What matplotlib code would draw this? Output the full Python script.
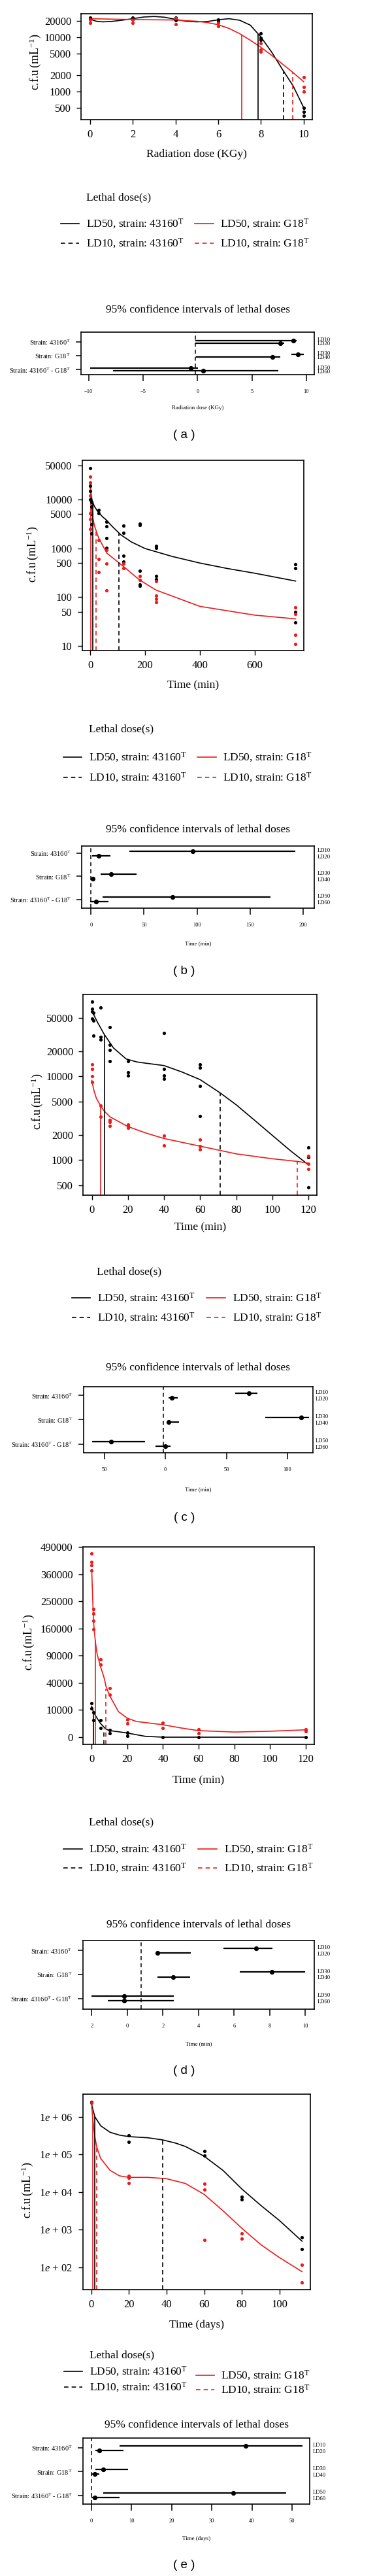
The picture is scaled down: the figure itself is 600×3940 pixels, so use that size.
import numpy as np
import matplotlib
matplotlib.use('Agg')
import matplotlib.pyplot as plt
from matplotlib.lines import Line2D
from matplotlib.transforms import blended_transform_factory
from matplotlib.ticker import NullLocator

plt.rcParams['font.family'] = ['Liberation Serif', 'DejaVu Serif']
plt.rcParams['mathtext.fontset'] = 'custom'
plt.rcParams['mathtext.rm'] = 'Liberation Serif'
plt.rcParams['mathtext.it'] = 'Liberation Serif:italic'
plt.rcParams['mathtext.bf'] = 'Liberation Serif:bold'

RED = '#ee1a1a'
W, H = 600, 3940

# ---------------- panel (a): radiation ----------------
a_blk_x = [0, 0, 2, 2, 4, 4, 6, 6, 8, 8, 8, 10, 10, 10]
a_blk_y = [23000, 21700, 23200, 21700, 23200, 20600, 21100, 19800, 11900, 9700, 9000, 495, 416, 353]
a_red_x = [0, 0, 2, 2, 4, 4, 6, 6, 8, 8, 8, 10, 10, 10]
a_red_y = [21000, 18700, 21000, 18700, 22600, 17600, 18400, 16300, 7900, 5960, 5480, 1810, 1213, 1000]
a_cblk_x = [0, 0.3, 0.6, 1, 1.5, 2, 2.5, 3, 3.5, 4, 4.5, 5, 5.5, 6, 6.5, 7, 7.5, 8, 8.5, 9, 9.5, 10]
a_cblk_y = [21700, 19800, 19300, 19650, 20700, 22100, 23700, 24300, 23500, 21500, 19800, 19300,
            19600, 21100, 22100, 20700, 16800, 10100, 5330, 2560, 1270, 500]
a_cred_x = [0, 1, 2, 3, 4, 5, 5.5, 6, 6.5, 7, 7.5, 8, 8.5, 9, 9.5, 10]
a_cred_y = [22100, 21700, 21300, 21100, 20900, 19800, 18700, 17100, 14640, 11700, 8840, 6520,
            4640, 3220, 2230, 1505]
a_ld_x = [7.85, 9.05, 7.11, 9.47]
a_ld_top = [11100, 2360, 10600, 2200]

# ---------------- panel (b) ----------------
b_blk_x = [0, 0, 0, 0, 5, 5, 5, 5, 5, 30, 30, 60, 60, 60, 60, 120, 120, 120, 120,
           180, 180, 180, 180, 180, 240, 240, 240, 240, 750, 750, 750, 750]
b_blk_y = [43900, 19300, 14700, 10000, 8800, 7170, 5000, 3100, 2000, 6140, 5250, 3500, 2850, 1630, 1030,
           2910, 2050, 716, 528, 3220, 3000, 350, 180, 171, 1135, 1025, 271, 232, 476, 387, 50, 30]
b_red_x = [0, 0, 0, 0, 0, 0, 30, 30, 30, 60, 60, 60, 120, 120, 180, 180, 240, 240, 240, 240,
           750, 750, 750, 750]
b_red_y = [29100, 22500, 12000, 5250, 4000, 2500, 1470, 596, 322, 925, 485, 139, 485, 388, 271, 228,
           214, 108, 92, 79, 61, 45, 17, 11]
b_cblk_x = [0, 3, 7, 15, 28, 45, 57, 80, 111, 150, 200, 300, 400, 500, 600, 750]
b_cblk_y = [20000, 12500, 9300, 7200, 5550, 4400, 3870, 2800, 1900, 1350, 990, 680, 500, 387, 310, 214]
b_cred_x = [0, 1, 3, 8, 15, 20, 30, 60, 120, 180, 240, 400, 600, 750]
b_cred_y = [20000, 14000, 9000, 4500, 2900, 2400, 1650, 800, 430, 225, 140, 65, 43, 36]
b_ld_x = [8, 105, 2.4, 20]
b_ld_top = [9000, 2000, 11000, 2400]

# ---------------- panel (c) ----------------
c_blk_x = [0, 0, 0, 0, 1, 1, 1, 5, 5, 5, 10, 10, 10, 10, 20, 20, 20, 40, 40, 40, 40,
           60, 60, 60, 60, 120, 120, 120]
c_blk_y = [78000, 64400, 60000, 49200, 57800, 46200, 31000, 66400, 29500, 27800, 39200, 23900, 20600, 15300,
           15300, 11300, 10300, 32900, 12400, 10300, 9440, 13950, 12760, 7750, 3340, 1410, 1090, 470]
c_red_x = [0, 0, 0, 0, 5, 5, 10, 10, 10, 20, 20, 20, 40, 40, 60, 60, 60, 120, 120, 120]
c_red_y = [13950, 12360, 10000, 8630, 4460, 3300, 3020, 2840, 2550, 2680, 2550, 2450, 1980, 1510,
           1760, 1470, 1340, 1120, 910, 783]
c_cblk_x = [0, 3, 6.7, 12, 19, 25, 30, 40, 50, 60, 71, 80, 90, 100, 110, 120]
c_cblk_y = [60700, 45000, 32300, 21900, 16200, 14900, 14400, 13500, 11300, 9170, 6390, 4590, 3020,
            1980, 1300, 880]
c_cred_x = [0, 1, 2.5, 5, 7, 10, 20, 30, 40, 60, 80, 100, 114, 120]
c_cred_y = [9000, 7000, 5500, 4400, 3840, 3300, 2520, 2110, 1815, 1470, 1190, 1040, 966, 920]
c_ld_x = [7.2, 71.2, 5.0, 114]
c_ld_top = [31000, 6390, 4400, 966]

# ---------------- panel (d) ----------------
d_blk_x = [0, 0, 1, 1, 5, 5, 10, 10, 20, 20, 40, 60, 120]
d_blk_y = [15900, 11200, 8400, 4000, 3800, 1150, 660, 190, 310, 30, 0, 0, 0]
d_red_x = [0, 0, 0, 0, 1, 1, 1, 1, 5, 5, 10, 10, 20, 20, 40, 40, 60, 60, 120, 120]
d_red_y = [457000, 417000, 400000, 377000, 222000, 207000, 184000, 158000, 82000, 72000,
           32600, 24300, 4300, 2500, 2900, 1150, 880, 190, 880, 470]
d_cblk_x = [0, 1, 3, 5, 8, 10, 15, 20, 30, 40, 60, 80, 100, 120]
d_cblk_y = [13000, 8460, 4900, 2500, 880, 580, 400, 230, 10, 0, 0, 0, 0, 0]
d_cred_x = [0, 1, 2, 3, 5, 7, 8, 10, 15, 20, 25, 30, 40, 50, 60, 80, 100, 120]
d_cred_y = [379500, 182300, 126000, 94200, 67100, 47500, 35300, 23700, 8840, 4900, 3360, 2900,
            2100, 1160, 580, 360, 480, 730]
d_ld_x = [0.86, 7.0, 1.96, 8.07]
d_ld_top = [8900, 1000, 126000, 31800]

# ---------------- panel (e) ----------------
e_blk_x = [0, 0, 20, 20, 60, 60, 80, 80, 112, 112]
e_blk_y = [2.55e6, 2.38e6, 3.2e5, 2.15e5, 1.26e5, 9.3e4, 7650, 6440, 620, 310]
e_red_x = [0, 20, 20, 20, 60, 60, 60, 80, 80, 112, 112]
e_red_y = [2.38e6, 27200, 23800, 17500, 17000, 11900, 530, 790, 580, 117, 39]
e_cblk_x = [0, 1, 2, 5, 10, 15, 20, 30, 38, 45, 50, 60, 70, 80, 90, 100, 112]
e_cblk_y = [2.38e6, 1.49e6, 1.0e6, 5.86e5, 3.93e5, 3.30e5, 3.01e5, 2.81e5, 2.46e5, 2.01e5, 1.65e5,
            9.06e4, 3.80e4, 1.22e4, 4490, 1760, 497]
e_cred_x = [0, 1, 2, 3, 5, 10, 15, 20, 30, 40, 50, 60, 70, 80, 90, 100, 112]
e_cred_y = [2.55e6, 7.16e5, 2.81e5, 1.54e5, 7.92e4, 3.80e4, 2.72e4, 2.48e4, 2.48e4, 2.29e4, 1.71e4,
            8750, 3210, 1100, 406, 182, 77]
e_ld_x = [1.97, 38, 0.93, 2.9]
e_ld_top = [1.0e6, 2.46e5, 1.0e6, 1.6e5]

# ---------------- confidence intervals (order: group1 a/b, group2 a/b, group3 a/b) ----------------
ci_groups = ['Strain: 43160$^{\\mathrm{T}}$', 'Strain: G18$^{\\mathrm{T}}$',
             'Strain: 43160$^{\\mathrm{T}}$ - G18$^{\\mathrm{T}}$']
ld_names = ['LD10', 'LD20', 'LD30', 'LD40', 'LD50', 'LD60']
a_ci_est = [8.82, 7.62, 9.22, 6.86, -0.62, 0.5]
a_ci_lo = [-0.2, -0.2, 8.62, -0.14, -9.88, -7.78]
a_ci_hi = [9.1, 7.96, 9.76, 7.6, 0.02, 7.42]
b_ci_est = [96.1, 7.2, 18.9, 1.8, 76.8, 4.9]
b_ci_lo = [35.9, 1.0, 9.2, 0.4, 11.1, -0.6]
b_ci_hi = [192.6, 18.5, 42.9, 3.1, 169.2, 16.2]
c_ci_est = [68.4, 5.1, 111.1, 2.7, -44.5, 0.1]
c_ci_lo = [56.9, 2.4, 81.7, 1.9, -60.2, -8.4]
c_ci_hi = [75.6, 10.3, 117.4, 11.2, -16.6, 4.2]
d_ci_est = [7.22, 1.68, 8.13, 2.59, -0.18, -0.18]
d_ci_lo = [5.39, 1.65, 6.32, 1.69, -2.0, -1.08]
d_ci_hi = [8.17, 3.55, 10.0, 3.52, 2.61, 2.61]
e_ci_est = [38.4, 1.9, 2.88, 0.87, 35.3, 0.87]
e_ci_lo = [7.06, 0.92, 0.92, 0.0, 2.99, 0.0]
e_ci_hi = [52.55, 8.03, 9.07, 1.9, 48.5, 7.06]
ci_zero = [-0.2, 0, -1.9, 0.77, 0]

legend_labels = ['LD50, strain: 43160$^{\\mathrm{T}}$', 'LD10, strain: 43160$^{\\mathrm{T}}$',
                 'LD50, strain: G18$^{\\mathrm{T}}$', 'LD10, strain: G18$^{\\mathrm{T}}$']

fig = plt.figure(figsize=(W / 100, H / 100), dpi=100)
DASH = (0, (4, 3))


def box(left, top, right, bottom):
    return [left / W, 1 - bottom / H, (right - left) / W, (bottom - top) / H]


def ftext(x, y, s, **kw):
    fig.text(x / W, 1 - y / H, s, **kw)


def sq_fwd(y):
    y = np.asarray(y, dtype=float)
    return np.sign(y) * np.sqrt(np.abs(y))


def sq_inv(s):
    s = np.asarray(s, dtype=float)
    return np.sign(s) * s ** 2


def main_panel(rect, scale, xlim, ylim, xticks, yticks, yticklabels,
               blk, red, cblk, cred, ld_x, ld_top, xlabel, label_y, ylab_x, ylab_y):
    ax = fig.add_axes(box(*rect))
    if scale == 'log':
        ax.set_yscale('log')
    elif scale == 'sqrt':
        ax.set_yscale('function', functions=(sq_fwd, sq_inv))
    ax.plot(cblk[0], cblk[1], color='black', lw=1.2, zorder=2)
    ax.plot(cred[0], cred[1], color=RED, lw=1.2, zorder=2)
    ax.scatter(blk[0], blk[1], s=14, color='black', linewidths=0, zorder=3)
    ax.scatter(red[0], red[1], s=14, color=RED, linewidths=0, zorder=3)
    colors = ['black', 'black', RED, RED]
    styles = ['-', DASH, '-', DASH]
    for x, top, c, ls in zip(ld_x, ld_top, colors, styles):
        ax.plot([x, x], [ylim[0], top], color=c, ls=ls, lw=1.2, zorder=2)
    ax.set_xlim(xlim)
    ax.set_ylim(ylim)
    ax.set_xticks(xticks)
    ax.set_xticklabels([str(t) for t in xticks])
    ax.set_yticks(yticks)
    ax.set_yticklabels(yticklabels)
    ax.yaxis.set_minor_locator(NullLocator())
    ax.xaxis.set_minor_locator(NullLocator())
    ax.tick_params(direction='out', length=5, width=1, labelsize=12, pad=6)
    for sp in ax.spines.values():
        sp.set_linewidth(1.2)
    left, top, right, bottom = rect
    ftext((left + right) / 2, label_y, xlabel, ha='center', va='center', fontsize=12.5)
    ftext(ylab_x, ylab_y, 'c.f.u$\\,$(mL$^{-1}$)', ha='center', va='center', rotation=90, fontsize=13)
    return ax


def legend(title_x, title_y, h1, h2, rows1, rows2):
    ftext(title_x, title_y, 'Lethal dose(s)', ha='left', va='center', fontsize=12.5)
    items = [(h1, rows1[0], 'black', '-', legend_labels[0]),
             (h1, rows1[1], 'black', DASH, legend_labels[1]),
             (h2, rows2[0], RED, '-', legend_labels[2]),
             (h2, rows2[1], RED, DASH, legend_labels[3])]
    for (x0, x1, tx), y, c, ls, lab in items:
        fig.add_artist(Line2D([x0 / W, x1 / W], [1 - y / H, 1 - y / H], transform=fig.transFigure,
                              color=c, ls=ls, lw=1.2))
        ftext(tx, y, lab, ha='left', va='center', fontsize=12.5)


def ci_panel(rect, xlim, ylim, est, lo, hi, zero, xticks, xticklabels, xlabel, title_y, label_y):
    ax = fig.add_axes(box(*rect))
    ys = [3.1, 2.9, 2.1, 1.9, 1.1, 0.9]
    ax.hlines(ys, lo, hi, color='black', lw=1.6, zorder=2)
    ax.plot(est, ys, 'o', color='black', ms=4.2, zorder=3)
    ax.axvline(zero, color='black', ls=DASH, lw=1.1, zorder=1)
    ax.set_xlim(xlim)
    ax.set_ylim(ylim)
    ax.set_yticks([3, 2, 1])
    ax.set_yticklabels(ci_groups, fontsize=7.5)
    ax.set_xticks(xticks)
    ax.set_xticklabels(xticklabels, fontsize=6)
    ax.tick_params(axis='y', direction='out', length=6, width=1.1, pad=6)
    ax.tick_params(axis='x', direction='out', length=7, width=1.1, pad=9)
    for sp in ax.spines.values():
        sp.set_linewidth(1.2)
    tr = blended_transform_factory(ax.transAxes, ax.transData)
    for g, (n1, n2) in zip([3, 2, 1], [(0, 1), (2, 3), (4, 5)]):
        ax.text(1.012, g + 0.12, ld_names[n1], transform=tr, fontsize=6.2, va='center', ha='left')
        ax.text(1.012, g - 0.15, ld_names[n2], transform=tr, fontsize=6.2, va='center', ha='left')
    left, top, right, bottom = rect
    ftext((left + right) / 2, title_y, '95% confidence intervals of lethal doses',
          ha='center', va='center', fontsize=12.5)
    ftext((left + right) / 2, label_y, xlabel, ha='center', va='center', fontsize=6.5)
    return ax


def panel_tag(y, s):
    ftext(282, y, s, ha='center', va='center', fontsize=13.5, family='Liberation Sans')


# ---- (a)
main_panel((124.3, 21, 478.3, 183), 'log', (-0.41, 10.41), (300, 27300), [0, 2, 4, 6, 8, 10],
           [500, 1000, 2000, 5000, 10000, 20000], ['500', '1000', '2000', '5000', '10000', '20000'],
           (a_blk_x, a_blk_y), (a_red_x, a_red_y), (a_cblk_x, a_cblk_y), (a_cred_x, a_cred_y),
           a_ld_x, a_ld_top, 'Radiation dose (KGy)', 236, 54, 95)
legend(131.7, 302, (92.7, 120.7, 131.7), (297.7, 326.7, 336.7), (342, 372), (342, 372))
ci_panel((124, 508, 481, 573), (-10.7, 10.72), (0.64, 3.69), a_ci_est, a_ci_lo, a_ci_hi, ci_zero[0],
         [-10, -5, 0, 5, 10], ['\u221210', '\u22125', '0', '5', '10'], 'Radiation dose (KGy)', 474, 624)
panel_tag(665, '( a )')

# ---- (b)
main_panel((125.7, 704, 465, 995), 'log', (-30, 780), (8.1, 63300), [0, 200, 400, 600],
           [10, 50, 100, 500, 1000, 5000, 10000, 50000],
           ['10', '50', '100', '500', '1000', '5000', '10000', '50000'],
           (b_blk_x, b_blk_y), (b_red_x, b_red_y), (b_cblk_x, b_cblk_y), (b_cred_x, b_cred_y),
           b_ld_x, b_ld_top, 'Time (min)', 1048, 50, 848)
legend(136, 1115, (96.7, 125, 136), (301.7, 331, 340.7), (1158, 1189), (1158, 1189))
ci_panel((125.3, 1294, 481, 1389), (-8.6, 210.5), (0.62, 3.32), b_ci_est, b_ci_lo, b_ci_hi, ci_zero[1],
         [0, 50, 100, 150, 200], ['0', '50', '100', '150', '200'], 'Time (min)', 1269, 1443)
panel_tag(1485, '( b )')

# ---- (c)
main_panel((127.3, 1521, 485.3, 1828), 'log', (-4.8, 124.8), (382, 95500), [0, 20, 40, 60, 80, 100, 120],
           [500, 1000, 2000, 5000, 10000, 20000, 50000],
           ['500', '1000', '2000', '5000', '10000', '20000', '50000'],
           (c_blk_x, c_blk_y), (c_red_x, c_red_y), (c_cblk_x, c_cblk_y), (c_cred_x, c_cred_y),
           c_ld_x, c_ld_top, 'Time (min)', 1877, 56.7, 1685)
legend(148.3, 1945, (110, 138.3, 149), (316, 345, 356), (1985, 2015), (1985, 2015))
ci_panel((127.7, 2121, 478.7, 2222), (-67.2, 120.7), (0.64, 3.36), c_ci_est, c_ci_lo, c_ci_hi, ci_zero[2],
         [-50, 0, 50, 100], ['50', '0', '50', '100'], 'Time (min)', 2092, 2278)
panel_tag(2322, '( c )')

# ---- (d)
main_panel((127, 2366, 480.7, 2668), 'sqrt', (-4.9, 124.8), (-702, 491400), [0, 20, 40, 60, 80, 100, 120],
           [0, 10000, 40000, 90000, 160000, 250000, 360000, 490000],
           ['0', '10000', '40000', '90000', '160000', '250000', '360000', '490000'],
           (d_blk_x, d_blk_y), (d_red_x, d_red_y), (d_cblk_x, d_cblk_y), (d_cred_x, d_cred_y),
           d_ld_x, d_ld_top, 'Time (min)', 2723, 44, 2512)
legend(136, 2787, (97.3, 126, 136.3), (303.3, 332.3, 342.7), (2828, 2857), (2828, 2857))
ci_panel((126.7, 2968, 481, 3073), (-2.5, 10.5), (0.55, 3.42), d_ci_est, d_ci_lo, d_ci_hi, ci_zero[3],
         [-2, 0, 2, 4, 6, 8, 10], ['2', '0', '2', '4', '6', '8', '10'], 'Time (min)', 2944, 3126)
panel_tag(3167, '( d )')

# ---- (e)
main_panel((126.7, 3203, 475.3, 3502), 'log', (-4.5, 116.5), (25.6, 4.06e6), [0, 20, 40, 60, 80, 100],
           [1e2, 1e3, 1e4, 1e5, 1e6],
           ['1$e$ + 02', '1$e$ + 03', '1$e$ + 04', '1$e$ + 05', '1$e$ + 06'],
           (e_blk_x, e_blk_y), (e_red_x, e_red_y), (e_cblk_x, e_cblk_y), (e_cred_x, e_cred_y),
           e_ld_x, e_ld_top, 'Time (days)', 3556, 41.7, 3350)
legend(136.7, 3602, (98.3, 126, 136.7), (300, 328.3, 338.3), (3627, 3651), (3633, 3655))
ci_panel((127, 3729, 474.3, 3830), (-2.1, 54.45), (0.63, 3.42), e_ci_est, e_ci_lo, e_ci_hi, ci_zero[4],
         [0, 10, 20, 30, 40, 50], ['0', '10', '20', '30', '40', '50'], 'Time (days)', 3709, 3883)
panel_tag(3924, '( e )')

fig.savefig('out.png', dpi=100)
